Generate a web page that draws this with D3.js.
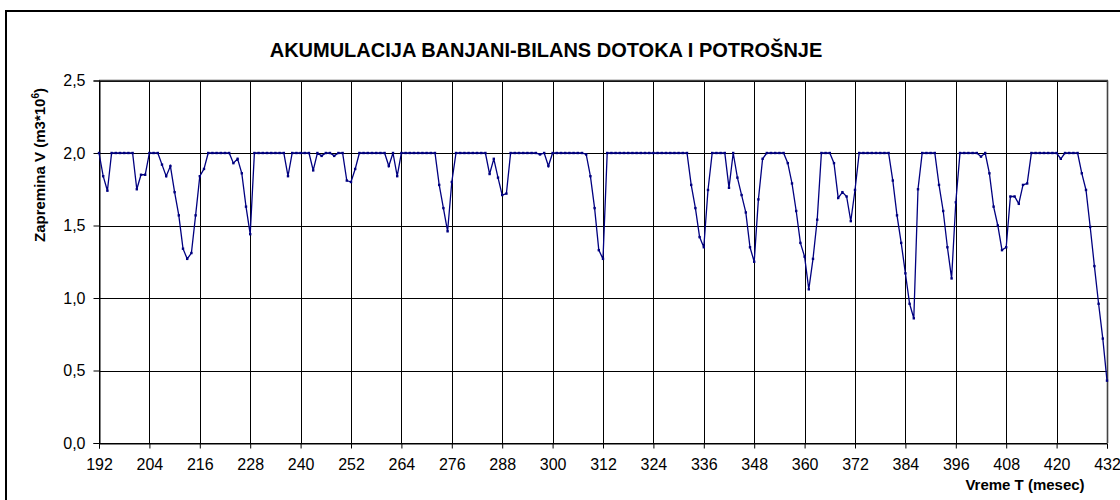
<!DOCTYPE html>
<html>
<head>
<meta charset="utf-8">
<script src="https://cdn.jsdelivr.net/npm/d3@7"></script>
<style>
  body { margin: 0; background: #fff; }
  svg { display: block; font-family: "Liberation Sans", Arial, sans-serif; }
</style>
</head>
<body>
<div id="chart"></div>
<script>
// months on the x axis (one point per month)
const months = d3.range(192, 433);
const xTicks = [192, 204, 216, 228, 240, 252, 264, 276, 288, 300, 312, 324, 336, 348, 360, 372, 384, 396, 408, 420, 432];
const yTicks = [0, 0.5, 1.0, 1.5, 2.0, 2.5];

// volume V (m3*10^6)
const volume = [
  2.0, 1.84, 1.74, 2.0, 2.0, 2.0, 2.0, 2.0, 2.0, 1.75, 1.85, 1.85,      // 192
  2.0, 2.0, 2.0, 1.92, 1.84, 1.91, 1.73, 1.57, 1.34, 1.27, 1.31, 1.57,  // 204
  1.84, 1.89, 2.0, 2.0, 2.0, 2.0, 2.0, 2.0, 1.93, 1.96, 1.86, 1.63,     // 216
  1.44, 2.0, 2.0, 2.0, 2.0, 2.0, 2.0, 2.0, 2.0, 1.84, 2.0, 2.0,         // 228
  2.0, 2.0, 2.0, 1.88, 2.0, 1.98, 2.0, 2.0, 1.98, 2.0, 2.0, 1.81,       // 240
  1.80, 1.89, 2.0, 2.0, 2.0, 2.0, 2.0, 2.0, 2.0, 1.91, 2.0, 1.84,       // 252
  2.0, 2.0, 2.0, 2.0, 2.0, 2.0, 2.0, 2.0, 2.0, 1.78, 1.62, 1.46,        // 264
  1.80, 2.0, 2.0, 2.0, 2.0, 2.0, 2.0, 2.0, 2.0, 1.855, 1.96, 1.83,      // 276
  1.71, 1.72, 2.0, 2.0, 2.0, 2.0, 2.0, 2.0, 2.0, 1.99, 2.0, 1.91,       // 288
  2.0, 2.0, 2.0, 2.0, 2.0, 2.0, 2.0, 2.0, 1.99, 1.84, 1.62, 1.33,       // 300
  1.27, 2.0, 2.0, 2.0, 2.0, 2.0, 2.0, 2.0, 2.0, 2.0, 2.0, 2.0,          // 312
  2.0, 2.0, 2.0, 2.0, 2.0, 2.0, 2.0, 2.0, 2.0, 1.78, 1.62, 1.42,        // 324
  1.35, 1.745, 2.0, 2.0, 2.0, 2.0, 1.76, 2.0, 1.83, 1.71, 1.59, 1.35,   // 336
  1.25, 1.68, 1.96, 2.0, 2.0, 2.0, 2.0, 2.0, 1.93, 1.79, 1.60, 1.38,    // 348
  1.285, 1.06, 1.27, 1.54, 2.0, 2.0, 2.0, 1.93, 1.69, 1.73, 1.70, 1.53, // 360
  1.745, 2.0, 2.0, 2.0, 2.0, 2.0, 2.0, 2.0, 2.0, 1.81, 1.57, 1.38,      // 372
  1.17, 0.96, 0.86, 1.75, 2.0, 2.0, 2.0, 2.0, 1.78, 1.60, 1.35, 1.135,  // 384
  1.66, 2.0, 2.0, 2.0, 2.0, 2.0, 1.975, 2.0, 1.86, 1.63, 1.50, 1.33,    // 396
  1.35, 1.70, 1.70, 1.65, 1.78, 1.79, 2.0, 2.0, 2.0, 2.0, 2.0, 2.0,     // 408
  2.0, 1.96, 2.0, 2.0, 2.0, 2.0, 1.86, 1.745, 1.49, 1.22, 0.96, 0.72,   // 420
  0.43                                                                  // 432
];

const data = months.map((m, i) => ({month: m, v: volume[i]}));

const width = 1120, height = 500;
const plot = {left: 99, right: 1107, top: 80.5, bottom: 443};

const svg = d3.select("#chart")
  .append("svg")
  .attr("width", width)
  .attr("height", height);

// outer frame (cut off on right and bottom like the original)
svg.append("rect")
  .attr("x", 6).attr("y", 11)
  .attr("width", 1200).attr("height", 600)
  .attr("fill", "none")
  .attr("stroke", "#000")
  .attr("stroke-width", 2);

const x = d3.scaleLinear().domain([192, 432]).range([plot.left, plot.right]);
const y = d3.scaleLinear().domain([0, 2.5]).range([plot.bottom, plot.top]);

// grid lines
svg.selectAll("line.hgrid").data(yTicks).enter()
  .append("line")
  .attr("class", "hgrid")
  .attr("x1", plot.left).attr("x2", plot.right)
  .attr("y1", d => Math.round(y(d)) + 0.5)
  .attr("y2", d => Math.round(y(d)) + 0.5)
  .attr("stroke", "#000")
  .attr("stroke-width", 1);

svg.selectAll("line.vgrid").data(xTicks).enter()
  .append("line")
  .attr("class", "vgrid")
  .attr("x1", d => Math.round(x(d)) + 0.5)
  .attr("x2", d => Math.round(x(d)) + 0.5)
  .attr("y1", plot.top).attr("y2", plot.bottom)
  .attr("stroke", "#000")
  .attr("stroke-width", 1);

// plot frame (top and right a bit heavier, grey)
svg.append("line")
  .attr("x1", plot.left).attr("x2", plot.right + 1)
  .attr("y1", plot.top).attr("y2", plot.top)
  .attr("stroke", "#444").attr("stroke-width", 1.6);
svg.append("line")
  .attr("x1", plot.right + 0.5).attr("x2", plot.right + 0.5)
  .attr("y1", plot.top).attr("y2", plot.bottom)
  .attr("stroke", "#444").attr("stroke-width", 1.6);

// axes
const yAxis = svg.append("g")
  .attr("transform", `translate(${plot.left + 0.5},0)`)
  .call(d3.axisLeft(y).tickValues(yTicks).tickSize(6).tickPadding(8)
    .tickFormat(d => d3.format(".1f")(d).replace(".", ",")));
const xAxis = svg.append("g")
  .attr("transform", `translate(0,${Math.round(plot.bottom) + 0.5})`)
  .call(d3.axisBottom(x).tickValues(xTicks).tickSize(5).tickPadding(10)
    .tickFormat(d3.format("d")));

[yAxis, xAxis].forEach(g => {
  g.select(".domain").attr("stroke", "#000");
  g.selectAll(".tick line").attr("stroke", "#000");
  g.selectAll(".tick text")
    .attr("fill", "#000")
    .style("font-size", "16px")
    .style("font-family", "'Liberation Sans', Arial, sans-serif");
});

// the volume line
svg.append("path")
  .datum(data)
  .attr("fill", "none")
  .attr("stroke", "#000080")
  .attr("stroke-width", 1.3)
  .attr("d", d3.line()
    .x(d => x(d.month))
    .y(d => y(d.v)));

// small square markers
svg.selectAll("rect.marker").data(data).enter()
  .append("rect")
  .attr("class", "marker")
  .attr("x", d => x(d.month) - 1.2)
  .attr("y", d => y(d.v) - 1.2)
  .attr("width", 2.4).attr("height", 2.4)
  .attr("fill", "#000080");

// title
svg.append("text")
  .attr("x", 546).attr("y", 57)
  .attr("text-anchor", "middle")
  .style("font-size", "20px")
  .style("font-weight", "bold")
  .text("AKUMULACIJA BANJANI-BILANS DOTOKA I POTROŠNJE");

// y axis title
const yTitle = svg.append("text")
  .attr("transform", "translate(45,165) rotate(-90)")
  .attr("text-anchor", "middle")
  .style("font-size", "15px")
  .style("font-weight", "bold");
yTitle.append("tspan").text("Zapremina V (m3*10");
yTitle.append("tspan").attr("dy", -6).style("font-size", "10px").text("6");
yTitle.append("tspan").attr("dy", 6).text(")");

// x axis title
svg.append("text")
  .attr("x", 1025).attr("y", 490)
  .attr("text-anchor", "middle")
  .style("font-size", "15px")
  .style("font-weight", "bold")
  .text("Vreme T (mesec)");
</script>
</body>
</html>
